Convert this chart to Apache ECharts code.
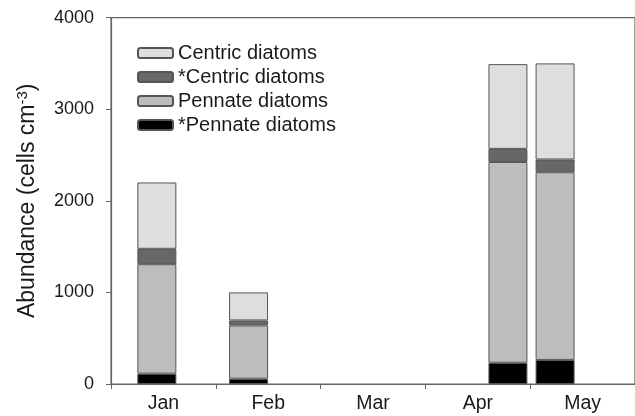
<!DOCTYPE html>
<html>
<head>
<meta charset="utf-8">
<script src="https://cdn.jsdelivr.net/npm/echarts@6/dist/echarts.min.js"></script>
<style>html,body{margin:0;padding:0;background:#fff}#c{width:635px;height:416px}</style>
</head>
<body>
<div id="c"></div>
<script>
var months = ['Jan', 'Feb', 'Mar', 'Apr', 'May'];
// sampling position along the month axis (0 = start of Jan, 1 = start of Feb, ...)
var samplePos = [0.43, 1.323, 3.796, 4.232];
var pennateStar = [113, 58, 232, 263];
var pennate = [1195, 581, 2192, 2049];
var centricStar = [168, 55, 143, 139];
var centric = [724, 306, 925, 1049];
var yTicks = [0, 1000, 2000, 3000, 4000];

// fine hidden position axis: 40 slots per month
var SLOTS_PER_MONTH = 40;
var nSlots = months.length * SLOTS_PER_MONTH;
var slotCats = [];
for (var s = 0; s < nSlots; s++) slotCats.push(String(s));
var sampleSlot = samplePos.map(function (p) { return Math.floor(p * SLOTS_PER_MONTH); });

function slotData(vals) {
  var arr = new Array(nSlots).fill(null);
  vals.forEach(function (v, i) { arr[sampleSlot[i]] = v; });
  return arr;
}

var FONT = 'Liberation Sans, Arial, sans-serif';
var border = { borderColor: '#555', borderWidth: 1 };
function mk(name, vals, color) {
  return {
    name: name, type: 'bar', stack: 'total', xAxisIndex: 1, barWidth: 39,
    data: slotData(vals),
    itemStyle: Object.assign({ color: color }, border),
    emphasis: { disabled: true }
  };
}

var chart = echarts.init(document.getElementById('c'));
chart.setOption({
  animation: false,
  grid: { left: 111, right: -2, top: 17.6, bottom: 32, show: true, borderColor: '#666', borderWidth: 1.2, backgroundColor: 'transparent' },
  legend: {
    left: 132, top: 38, orient: 'vertical', itemWidth: 35, itemHeight: 10, itemGap: 4, itemTextGap: 8,
    data: ['Centric diatoms', '*Centric diatoms', 'Pennate diatoms', '*Pennate diatoms'],
    textStyle: { fontFamily: FONT, fontSize: 20, color: '#1a1a1a' },
    selectedMode: false
  },
  xAxis: [
    {
      type: 'category', data: months, boundaryGap: true,
      axisLine: { lineStyle: { color: '#666', width: 1.2 } },
      axisTick: { show: true, length: 5, lineStyle: { color: '#666' } },
      axisLabel: { fontFamily: FONT, fontSize: 19.5, color: '#1a1a1a', margin: 10 }
    },
    { type: 'category', data: slotCats, boundaryGap: true, show: false }
  ],
  yAxis: {
    type: 'value', min: yTicks[0], max: yTicks[yTicks.length - 1], interval: 1000,
    name: 'Abundance (cells cm{sup|-3})', nameLocation: 'middle', nameGap: 70, nameRotate: 90,
    nameTextStyle: {
      fontFamily: FONT, fontSize: 23, color: '#1a1a1a',
      rich: { sup: { fontFamily: FONT, fontSize: 15, color: '#1a1a1a', padding: [0, 0, 11, 0] } }
    },
    splitLine: { show: false },
    axisLine: { show: true, lineStyle: { color: '#666', width: 1.2 } },
    axisTick: { show: true, length: 5, lineStyle: { color: '#666' } },
    axisLabel: { fontFamily: FONT, fontSize: 18, color: '#1a1a1a', margin: 17, formatter: function (v) { return String(v); } }
  },
  series: [
    mk('*Pennate diatoms', pennateStar, '#000000'),
    mk('Pennate diatoms', pennate, '#bdbdbd'),
    mk('*Centric diatoms', centricStar, '#676767'),
    mk('Centric diatoms', centric, '#dedede')
  ]
});
</script>
</body>
</html>
